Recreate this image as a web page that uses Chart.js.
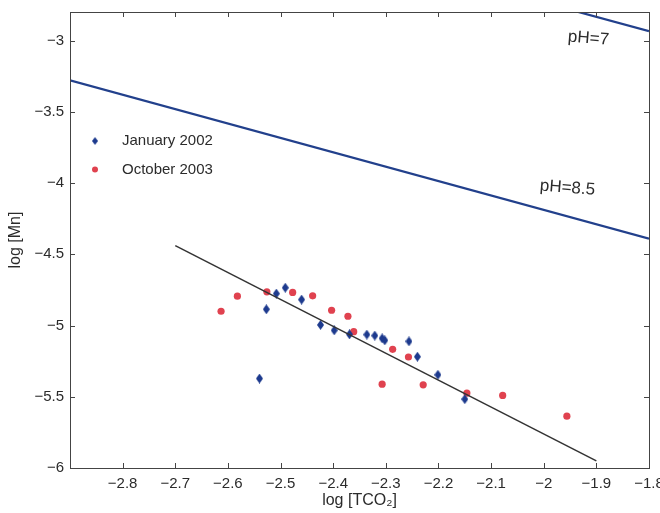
<!DOCTYPE html>
<html lang="en">
<head>
  <meta charset="UTF-8" />
  <title>log [Mn] vs log [TCO2]</title>
  <script src="https://cdn.jsdelivr.net/npm/chart.js"></script>
  <style>
    html, body { margin: 0; padding: 0; background: #fff; }
    canvas { display: block; }
  </style>
</head>
<body>
  <canvas id="mnChart" width="660" height="513"></canvas>

  <script>
    // January 2002 samples
    const janX = [-2.527, -2.508, -2.491, -2.460, -2.424, -2.398, -2.369, -2.336, -2.321, -2.307, -2.302, -2.256, -2.240, -2.201, -2.150, -2.540];
    const janY = [-4.886, -4.776, -4.735, -4.818, -4.996, -5.034, -5.062, -5.064, -5.071, -5.090, -5.104, -5.111, -5.219, -5.346, -5.517, -5.372];

    // October 2003 samples
    const octX = [-2.613, -2.582, -2.526, -2.477, -2.439, -2.403, -2.372, -2.361, -2.287, -2.257, -2.307, -2.229, -2.146, -2.078, -1.956];
    const octY = [-4.900, -4.794, -4.764, -4.768, -4.792, -4.893, -4.935, -5.043, -5.167, -5.221, -5.412, -5.416, -5.474, -5.491, -5.636];

    // regression line
    const fitX = [-2.7, -1.9];
    const fitY = [-4.44, -5.95];

    // equilibrium lines
    const ph85X = [-2.9, -1.8];
    const ph85Y = [-3.28, -4.39];
    const ph7X = [-1.95, -1.8];
    const ph7Y = [-2.784, -2.934];

    const phLabels = ['pH=7', 'pH=8.5'];
    const phLabelX = [-1.915, -1.955];
    const phLabelY = [-2.985, -4.035];

    const xTicks = { min: -2.9, max: -1.8, step: 0.1 };
    const yTicks = { min: -6, max: -2.8, step: 0.5 };

    const FONT = "'Liberation Sans', Arial, sans-serif";
    const INK = '#2b2b2b';
    const BLUE = '#1d3a8e';
    const RED = '#e0424f';
    const LINE_BLUE = '#22408c';

    const pts = (xs, ys) => xs.map((x, i) => ({ x: x, y: ys[i] }));

    function diamond(w, h, color) {
      const c = document.createElement('canvas');
      c.width = w; c.height = h;
      const g = c.getContext('2d');
      g.fillStyle = color;
      g.beginPath();
      g.moveTo(w / 2, 0); g.lineTo(w, h / 2); g.lineTo(w / 2, h); g.lineTo(0, h / 2);
      g.closePath();
      g.fill();
      return c;
    }
    const janMarker = diamond(7, 10, BLUE);

    const fmt = v => {
      const s = Number(Math.abs(v).toFixed(2)).toString();
      return v < 0 ? '\u2212' + s : s;
    };
    const onStep = (v, step) => Math.abs(v / step - Math.round(v / step)) < 1e-6;

    // box frame with inward ticks on all four sides, legend and pH labels
    const decorations = {
      id: 'decorations',
      afterDraw(chart) {
        const { ctx, chartArea: a, scales } = chart;
        ctx.save();
        ctx.strokeStyle = '#444';
        ctx.lineWidth = 1;
        ctx.strokeRect(a.left + 0.5, a.top + 0.5, a.right - a.left, a.bottom - a.top);
        ctx.beginPath();
        scales.x.ticks.forEach(t => {
          const px = Math.round(scales.x.getPixelForValue(t.value)) + 0.5;
          ctx.moveTo(px, a.bottom); ctx.lineTo(px, a.bottom - 5);
          ctx.moveTo(px, a.top); ctx.lineTo(px, a.top + 5);
        });
        scales.y.ticks.forEach(t => {
          const py = Math.round(scales.y.getPixelForValue(t.value)) + 0.5;
          ctx.moveTo(a.left, py); ctx.lineTo(a.left + 5, py);
          ctx.moveTo(a.right, py); ctx.lineTo(a.right - 5, py);
        });
        ctx.stroke();

        // legend
        ctx.font = '15px ' + FONT;
        ctx.fillStyle = INK;
        ctx.textBaseline = 'middle';
        ctx.textAlign = 'left';
        ctx.drawImage(janMarker, 95 - 3, 141 - 4, 6, 8);
        ctx.fillText(chart.data.datasets[3].label, 122, 141);
        ctx.fillStyle = RED;
        ctx.beginPath(); ctx.arc(95, 169.5, 3, 0, Math.PI * 2); ctx.fill();
        ctx.fillStyle = INK;
        ctx.fillText(chart.data.datasets[4].label, 122, 169.5);

        // pH labels
        ctx.font = '17px ' + FONT;
        ctx.textAlign = 'center';
        phLabels.forEach((txt, i) => {
          ctx.save();
          ctx.translate(scales.x.getPixelForValue(phLabelX[i]), scales.y.getPixelForValue(phLabelY[i]));
          ctx.rotate(0.08);
          ctx.fillText(txt, 0, 0);
          ctx.restore();
        });
        ctx.restore();
      }
    };

    const lineSet = (xs, ys, color, width) => ({
      data: pts(xs, ys),
      showLine: true,
      borderColor: color,
      borderWidth: width,
      pointRadius: 0,
      fill: false
    });

    const ctx = document.getElementById('mnChart').getContext('2d');
    new Chart(ctx, {
      type: 'scatter',
      data: {
        datasets: [
          lineSet(ph7X, ph7Y, LINE_BLUE, 2.2),
          lineSet(ph85X, ph85Y, LINE_BLUE, 2.2),
          lineSet(fitX, fitY, '#333', 1.5),
          {
            label: 'January 2002',
            data: pts(janX, janY),
            pointStyle: janMarker,
            backgroundColor: BLUE
          },
          {
            label: 'October 2003',
            data: pts(octX, octY),
            pointStyle: 'circle',
            pointRadius: 3.6,
            backgroundColor: RED,
            borderWidth: 0
          }
        ]
      },
      options: {
        responsive: false,
        animation: false,
        layout: { padding: { left: 0, right: 11, top: 12, bottom: 0 } },
        plugins: { legend: { display: false }, tooltip: { enabled: false } },
        scales: {
          x: {
            min: xTicks.min, max: xTicks.max,
            grid: { display: false, drawTicks: false },
            border: { display: false },
            ticks: {
              stepSize: xTicks.step, autoSkip: false, maxRotation: 0, padding: 7,
              color: INK, font: { family: FONT, size: 15 },
              callback: v => fmt(v)
            },
            afterBuildTicks: s => { s.ticks = s.ticks.filter(t => t.value > xTicks.min + 1e-6); },
            afterFit: s => { s.height = 45; s.paddingLeft = 0; s.paddingRight = 0; },
            title: {
              display: true, text: 'log [TCO\u2082]', color: INK,
              font: { family: FONT, size: 16 }, padding: { top: 0, bottom: 3 }
            }
          },
          y: {
            min: yTicks.min, max: yTicks.max,
            grid: { display: false, drawTicks: false },
            border: { display: false },
            ticks: {
              stepSize: yTicks.step, autoSkip: false, padding: 6,
              color: INK, font: { family: FONT, size: 15 },
              callback: v => fmt(v)
            },
            afterBuildTicks: s => { s.ticks = s.ticks.filter(t => onStep(t.value, yTicks.step)); },
            afterFit: s => { s.width = 70; s.paddingTop = 0; s.paddingBottom = 0; },
            title: {
              display: true, text: 'log [Mn]', color: INK,
              font: { family: FONT, size: 16 }, padding: { top: 6, bottom: 0 }
            }
          }
        }
      },
      plugins: [decorations]
    });
  </script>
</body>
</html>
